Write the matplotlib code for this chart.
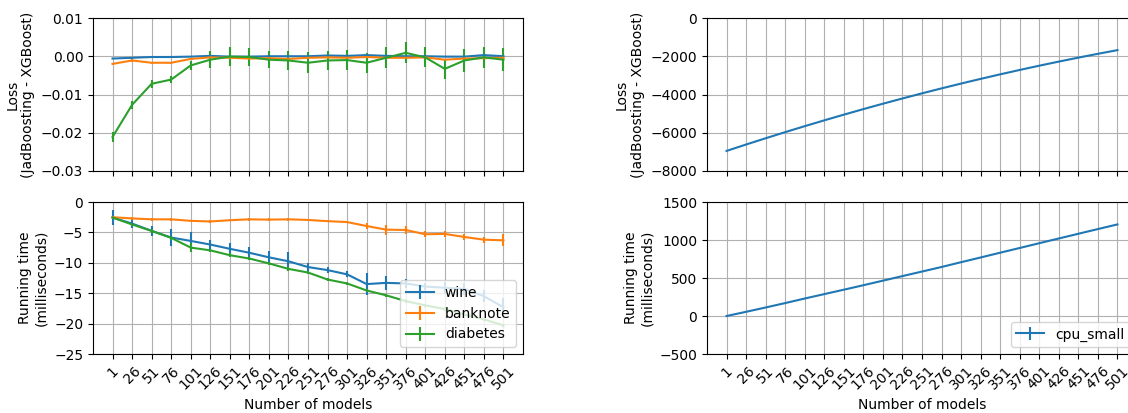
import matplotlib
matplotlib.use("Agg")
import matplotlib.pyplot as plt

n_models = [1, 26, 51, 76, 101, 126, 151, 176, 201, 226, 251, 276, 301, 326, 351, 376, 401, 426, 451, 476, 501]

# Loss differences (JadBoosting - XGBoost)
wine_loss = [-0.0006, -0.0004, -0.0002, -0.0002, -0.0001, 0.0001, -0.0001, -0.0001, 0.0, 0.0, 0.0,
             0.0002, 0.0001, 0.0003, 0.0001, 0.0, 0.0, -0.0001, -0.0001, 0.0003, 0.0]
wine_loss_err = [0.0002, 0.0002, 0.0002, 0.0002, 0.0002, 0.0002, 0.0002, 0.0002, 0.0002, 0.0002, 0.0002,
                 0.0002, 0.0002, 0.0002, 0.0002, 0.0002, 0.0002, 0.0002, 0.0002, 0.0002, 0.0002]
banknote_loss = [-0.0020, -0.0011, -0.0017, -0.0017, -0.0007, -0.0003, -0.0004, -0.0006, -0.0005, -0.0007, -0.0004,
                 -0.0003, -0.0004, -0.0002, -0.0004, -0.0004, -0.0003, -0.0009, -0.0006, -0.0005, -0.0004]
banknote_loss_err = [0.0003, 0.0003, 0.0003, 0.0003, 0.0003, 0.0003, 0.0003, 0.0003, 0.0003, 0.0003, 0.0003,
                     0.0003, 0.0003, 0.0003, 0.0003, 0.0003, 0.0003, 0.0003, 0.0003, 0.0003, 0.0003]
diabetes_loss = [-0.0211, -0.0127, -0.0072, -0.0061, -0.0024, -0.0009, -0.0001, -0.0002, -0.0009, -0.0011, -0.0017,
                 -0.0011, -0.0010, -0.0017, -0.0004, 0.0009, -0.0003, -0.0033, -0.0011, -0.0003, -0.0009]
diabetes_loss_err = [0.0012, 0.0010, 0.0010, 0.0010, 0.0012, 0.0022, 0.0024, 0.0023, 0.0023, 0.0026, 0.0027,
                     0.0026, 0.0026, 0.0026, 0.0027, 0.0027, 0.0026, 0.0026, 0.0030, 0.0027, 0.0030]

# Running time differences (ms)
wine_time = [-2.55, -3.55, -4.75, -5.85, -6.4, -7.0, -7.7, -8.35, -9.1, -9.75, -10.7,
             -11.2, -11.9, -13.5, -13.3, -13.4, -13.9, -14.1, -14.3, -15.5, -17.3]
wine_time_err = [1.2, 0.7, 0.8, 1.4, 1.4, 0.8, 0.9, 0.9, 1.0, 1.6, 0.6,
                 0.5, 0.5, 1.8, 1.2, 0.7, 0.6, 1.0, 1.0, 1.0, 1.5]
banknote_time = [-2.5, -2.7, -2.85, -2.85, -3.1, -3.2, -3.0, -2.85, -2.9, -2.85, -2.95,
                 -3.15, -3.3, -3.95, -4.55, -4.6, -5.3, -5.25, -5.75, -6.2, -6.3]
banknote_time_err = [0.2, 0.2, 0.2, 0.2, 0.2, 0.2, 0.2, 0.2, 0.2, 0.2, 0.2,
                     0.2, 0.2, 0.5, 0.8, 0.6, 0.5, 0.5, 0.5, 0.5, 1.0]
diabetes_time = [-2.55, -3.7, -4.75, -5.9, -7.5, -7.95, -8.75, -9.3, -10.1, -11.0, -11.6,
                 -12.75, -13.4, -14.55, -15.35, -16.3, -17.0, -17.6, -18.5, -19.3, -20.3]
diabetes_time_err = [0.3, 0.3, 0.3, 0.3, 0.8, 0.3, 0.3, 0.3, 0.3, 0.3, 0.3,
                     0.3, 0.3, 0.3, 0.3, 0.3, 0.3, 0.3, 0.3, 0.3, 0.3]

cpu_loss = [-6950, -6615, -6288, -5968, -5656, -5351, -5054, -4764, -4482, -4207, -3940,
            -3680, -3428, -3183, -2946, -2716, -2494, -2279, -2072, -1872, -1680]
cpu_loss_err = [5] * 21
cpu_time = [0, 55, 112, 170, 230, 288, 346, 405, 465, 525, 585,
            645, 708, 770, 833, 895, 958, 1020, 1082, 1144, 1205]
cpu_time_err = [3] * 21

W, H = 1128, 413
fig = plt.figure(figsize=(W / 100, H / 100), dpi=100)

def ax_at(x0, y0, x1, y1):
    return fig.add_axes([x0 / W, 1 - y1 / H, (x1 - x0) / W, (y1 - y0) / H])

ax_tl = ax_at(93, 18, 523, 171)
ax_bl = ax_at(93, 202, 523, 354)
ax_tr = ax_at(707, 18, 1137, 171)
ax_br = ax_at(707, 202, 1137, 354)

loss_label = "Loss\n(JadBoosting - XGBoost)"
time_label = "Running time\n(milliseconds)"

ax_tl.errorbar(n_models, wine_loss, yerr=wine_loss_err, label="wine")
ax_tl.errorbar(n_models, banknote_loss, yerr=banknote_loss_err, label="banknote")
ax_tl.errorbar(n_models, diabetes_loss, yerr=diabetes_loss_err, label="diabetes")
ax_tl.set_ylim(-0.03, 0.01)
ax_tl.set_yticks([-0.03, -0.02, -0.01, 0.0, 0.01])

ax_bl.errorbar(n_models, wine_time, yerr=wine_time_err, label="wine")
ax_bl.errorbar(n_models, banknote_time, yerr=banknote_time_err, label="banknote")
ax_bl.errorbar(n_models, diabetes_time, yerr=diabetes_time_err, label="diabetes")
ax_bl.set_ylim(-25, 0)
ax_bl.legend(loc="lower right")

ax_tr.errorbar(n_models, cpu_loss, yerr=cpu_loss_err, label="cpu_small")
ax_tr.set_ylim(-8000, 0)

ax_br.errorbar(n_models, cpu_time, yerr=cpu_time_err, label="cpu_small")
ax_br.set_ylim(-500, 1500)
ax_br.legend(loc="lower right")

for ax in (ax_tl, ax_tr):
    ax.set_ylabel(loss_label)
for ax in (ax_bl, ax_br):
    ax.set_ylabel(time_label)
    ax.set_xlabel("Number of models")

for ax in (ax_tl, ax_bl, ax_tr, ax_br):
    ax.set_xticks(n_models)
    ax.grid(True)
    ax.set_xlim(-24, 526)
for ax in (ax_tl, ax_tr):
    ax.set_xticklabels([])
for ax in (ax_bl, ax_br):
    ax.set_xticklabels([str(v) for v in n_models], rotation=45)

fig.savefig("out.png", dpi=100)
